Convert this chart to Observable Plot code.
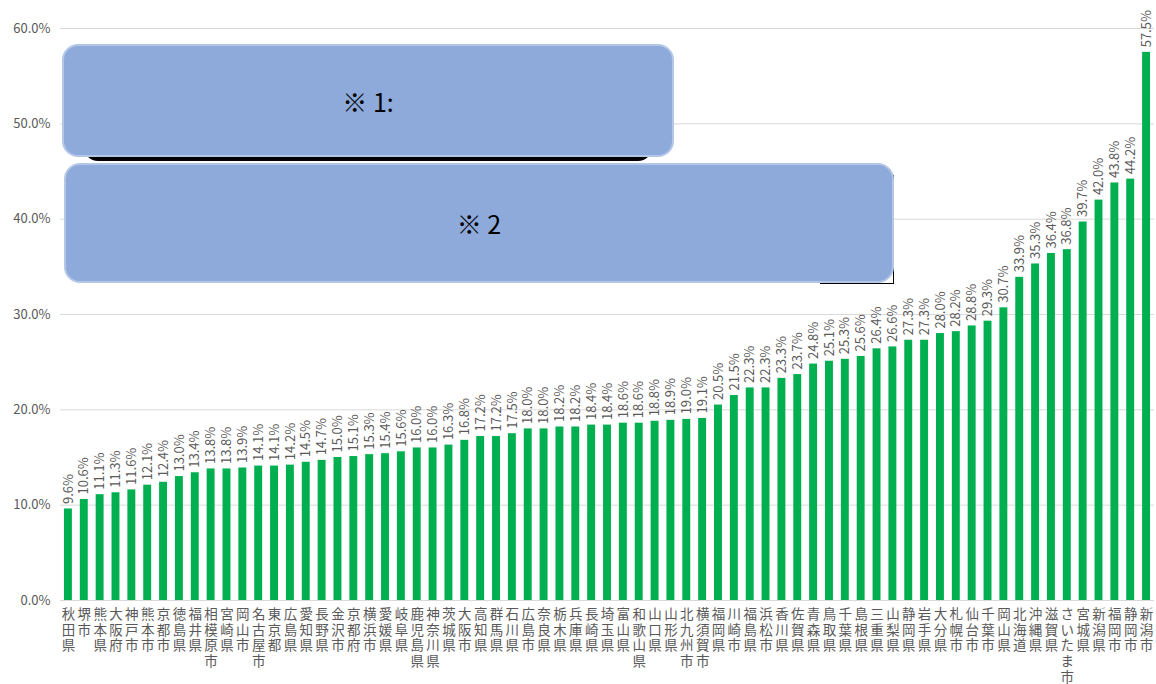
<!DOCTYPE html>
<html>
<head>
<meta charset="utf-8">
<script src="https://cdn.jsdelivr.net/npm/d3@7"></script>
<script src="https://cdn.jsdelivr.net/npm/@observablehq/plot@0.6"></script>
<style>
  html, body { margin: 0; padding: 0; background: #fff; }
  #wrap { position: relative; width: 1156px; height: 684px; overflow: hidden; }
  .box { position: absolute; box-sizing: border-box; background: #8eaadb; border: 2px solid #b4c7e7; border-radius: 16px;
         display: flex; align-items: center; justify-content: center;
         font-family: "Noto Sans CJK JP", "Liberation Sans", sans-serif; font-size: 25px; color: #000; }
  .shadow1 { position: absolute; background: #000; border-radius: 14px; }
  .shadow2 { position: absolute; box-sizing: border-box; border-right: 1.5px solid #000; border-bottom: 1.5px solid #000; }
</style>
</head>
<body>
<div id="wrap"></div>
<script>
const names = ["秋田県","堺市","熊本県","大阪府","神戸市","熊本市","京都市","徳島県","福井県","相模原市","宮崎県","岡山市","名古屋市","東京都","広島県","愛知県","長野県","金沢市","京都府","横浜市","愛媛県","岐阜県","鹿児島県","神奈川県","茨城県","大阪市","高知県","群馬県","石川県","広島市","奈良県","栃木県","兵庫県","長崎県","埼玉県","富山県","和歌山県","山口県","山形県","北九州市","横須賀市","福岡県","川崎市","福島県","浜松市","香川県","佐賀県","青森県","鳥取県","千葉県","島根県","三重県","山梨県","静岡県","岩手県","大分県","札幌市","仙台市","千葉市","岡山県","北海道","沖縄県","滋賀県","さいたま市","宮城県","新潟県","福岡市","静岡市","新潟市"];
const values = [9.6,10.6,11.1,11.3,11.6,12.1,12.4,13.0,13.4,13.8,13.8,13.9,14.1,14.1,14.2,14.5,14.7,15.0,15.1,15.3,15.4,15.6,16.0,16.0,16.3,16.8,17.2,17.2,17.5,18.0,18.0,18.2,18.2,18.4,18.4,18.6,18.6,18.8,18.9,19.0,19.1,20.5,21.5,22.3,22.3,23.3,23.7,24.8,25.1,25.3,25.6,26.4,26.6,27.3,27.3,28.0,28.2,28.8,29.3,30.7,33.9,35.3,36.4,36.8,39.7,42.0,43.8,44.2,57.5];
const yTicks = [0,10,20,30,40,50,60];
const notes = ["※ 1:", "※ 2"];

const data = names.map((n, i) => ({name: n, value: values[i]}));

const chart = Plot.plot({
  width: 1156,
  height: 684,
  marginLeft: 60,
  marginRight: 2,
  marginTop: 28,
  marginBottom: 84,
  style: {fontFamily: "'Noto Sans CJK JP', sans-serif", color: "#595959", background: "white"},
  x: {domain: names, paddingInner: 0.5, paddingOuter: 0.25, axis: null, label: null},
  y: {domain: [0, 60], axis: null, label: null},
  marks: [
    Plot.gridY(yTicks, {stroke: "#d9d9d9", strokeOpacity: 1, strokeWidth: 1}),
    Plot.axisY(yTicks, {tickSize: 0, tickPadding: 10, fontSize: 13, fill: "#595959", label: null, tickFormat: d => d.toFixed(1) + "%"}),
    Plot.barY(data, {x: "name", y: "value", fill: "#00b050"}),
    Plot.text(data, {x: "name", y: "value", text: d => d.value.toFixed(1) + "%", rotate: -90, textAnchor: "start", dy: -5, fontSize: 13, fill: "#595959"}),
    Plot.axisX({tickSize: 0, tickPadding: 7, fontSize: 13.5, lineHeight: 1.17, fill: "#595959", label: null, tickFormat: d => [...d].join("\n")})
  ]
});
const wrap = document.getElementById("wrap");
wrap.appendChild(chart);

function addDiv(cls, css, text) {
  const d = document.createElement("div");
  d.className = cls;
  Object.assign(d.style, css);
  if (text) d.textContent = text;
  wrap.appendChild(d);
}
addDiv("shadow1", {left: "84px", top: "70px", width: "568px", height: "91px"});
addDiv("shadow2", {left: "820px", top: "175px", width: "74px", height: "109px"});
addDiv("box", {left: "62px", top: "44px", width: "612px", height: "113px"}, notes[0]);
addDiv("box", {left: "64px", top: "163px", width: "830px", height: "120px"}, notes[1]);
</script>
</body>
</html>
